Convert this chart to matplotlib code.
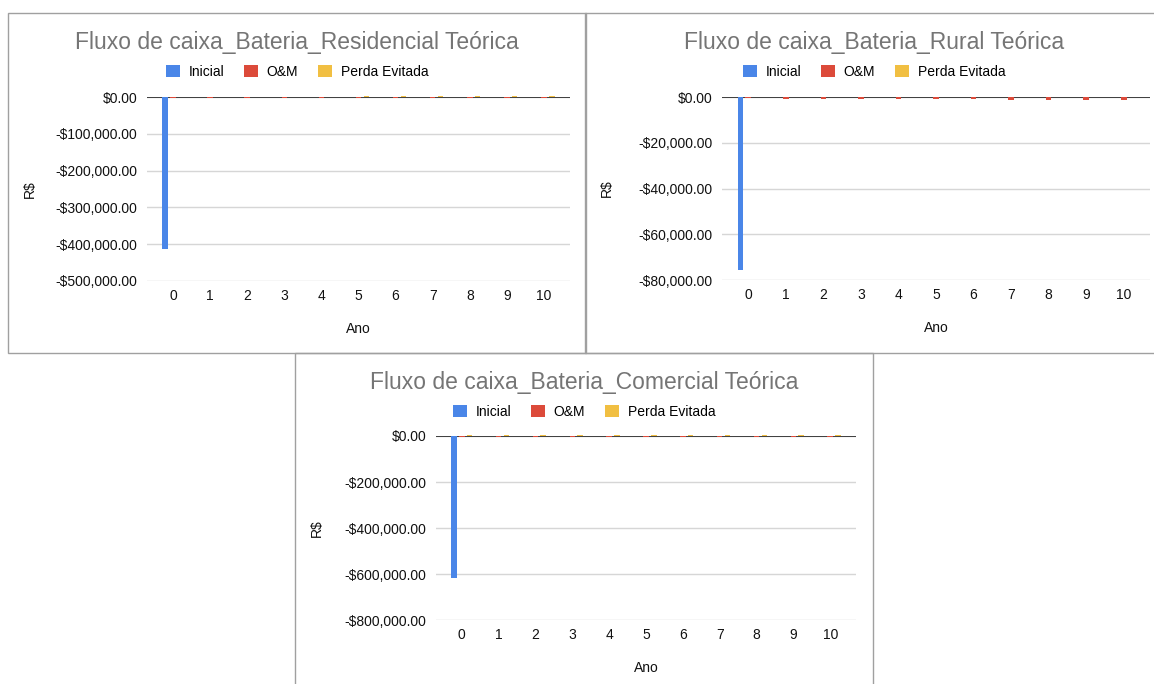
import matplotlib
matplotlib.use("Agg")
import matplotlib.pyplot as plt
from matplotlib.patches import Patch, Rectangle
from matplotlib.ticker import FuncFormatter, MultipleLocator

plt.rcParams.update({
    "font.family": ["Liberation Sans", "DejaVu Sans"],
    "font.size": 10,
})

# dados do fluxo de caixa (R$) por ano
anos = list(range(11))
series = ["Inicial", "O&M", "Perda Evitada"]
cores = ["#4a86e8", "#dc4a3a", "#f1bf42"]

res_inicial = [-413000, 0, 0, 0, 0, 0, 0, 0, 0, 0, 0]
res_om = [-1900, -1950, -2000, -2050, -2100, -2150, -2200, -2250, -2300, -2350, -2400]
res_perda = [0, 0, 0, 0, 0, 1500, 1550, 1600, 1650, 1700, 1750]

rur_inicial = [-75800, 0, 0, 0, 0, 0, 0, 0, 0, 0, 0]
rur_om = [-650, -660, -670, -690, -700, -720, -740, -1250, -1280, -1310, -1340]
rur_perda = [0, 10, 10, 10, 10, 10, 10, 10, 10, 10, 10]

com_inicial = [-616000, 0, 0, 0, 0, 0, 0, 0, 0, 0, 0]
com_om = [-4000, -4100, -4200, -4300, -4400, -4500, -4600, -4700, -4800, -4900, -5000]
com_perda = [3500, 3600, 3700, 3800, 3900, 4000, 4100, 4200, 4300, 4400, 4500]

W, H = 1154, 684
fig = plt.figure(figsize=(W / 100, H / 100), dpi=100)


def fx(x):
    return x / W


def fy(y):
    return 1 - y / H


def moeda(v, pos=None):
    if v < 0:
        return f"-${abs(v):,.2f}"
    return f"${v:,.2f}"


# quadro = borda do painel (px), eixo = área de plotagem (px), centro = x do título
paineis = [
    dict(titulo="Fluxo de caixa_Bateria_Residencial Teórica",
         valores=[res_inicial, res_om, res_perda], ymin=-500000, passo=100000,
         quadro=(8, 13, 586, 353), eixo=(147, 97, 570, 281), centro=297),
    dict(titulo="Fluxo de caixa_Bateria_Rural Teórica",
         valores=[rur_inicial, rur_om, rur_perda], ymin=-80000, passo=20000,
         quadro=(585, 13, 1160, 353), eixo=(722, 97, 1150, 280), centro=874),
    dict(titulo="Fluxo de caixa_Bateria_Comercial Teórica",
         valores=[com_inicial, com_om, com_perda], ymin=-800000, passo=200000,
         quadro=(295, 353, 873, 690), eixo=(436, 436, 856, 620), centro=584),
]

largura = 0.15
desloc = [-0.21, 0.0, 0.21]

for p in paineis:
    l, t, r, b = p["quadro"]
    fig.patches.append(Rectangle((fx(l), fy(b)), fx(r) - fx(l), fy(t) - fy(b),
                                 transform=fig.transFigure, fill=False,
                                 edgecolor="#a0a0a0", lw=1.0))

    al, at, ar, ab = p["eixo"]
    ax = fig.add_axes([fx(al), fy(ab), fx(ar) - fx(al), fy(at) - fy(ab)])

    ax.axhline(0, color="#333333", lw=1.3, zorder=2)
    for i, (vals, cor) in enumerate(zip(p["valores"], cores)):
        ax.bar([a + desloc[i] for a in anos], vals, width=largura, color=cor,
               zorder=3, clip_on=False)

    ax.set_xlim(-0.7, 10.7)
    ax.set_ylim(p["ymin"], 0)
    ax.yaxis.set_major_locator(MultipleLocator(p["passo"]))
    ax.yaxis.set_major_formatter(FuncFormatter(moeda))
    ax.set_xticks(anos)
    ax.set_xticklabels([str(a) for a in anos])
    ax.grid(axis="y", color="#d6d6d6", lw=1.0, zorder=0)
    ax.set_axisbelow(True)
    for s in ax.spines.values():
        s.set_visible(False)
    ax.tick_params(axis="both", length=0, labelsize=10, labelcolor="#111111")
    ax.tick_params(axis="y", pad=7)
    ax.tick_params(axis="x", pad=6)

    fig.text(fx(p["centro"]), fy(t + 29), p["titulo"],
             ha="center", va="center", fontsize=16.5, color="#757575")

    handles = [Patch(facecolor=c, edgecolor="none") for c in cores]
    ax.legend(handles, series, loc="center", ncol=3, frameon=False,
              bbox_to_anchor=(fx(p["centro"]), fy(t + 58.5)),
              bbox_transform=fig.transFigure, handlelength=1.0, handleheight=1.0,
              handletextpad=0.65, columnspacing=1.4, fontsize=10)

    ax.set_xlabel("Ano", fontsize=10, color="#111111")
    ax.xaxis.set_label_coords(fx((al + ar) / 2), fy(ab + 41), transform=fig.transFigure)
    ax.set_ylabel("R$", fontsize=10, color="#111111")
    ax.yaxis.set_label_coords(fx(l + 29), fy((at + ab) / 2), transform=fig.transFigure)

fig.savefig("out.png", dpi=100, facecolor="white")
